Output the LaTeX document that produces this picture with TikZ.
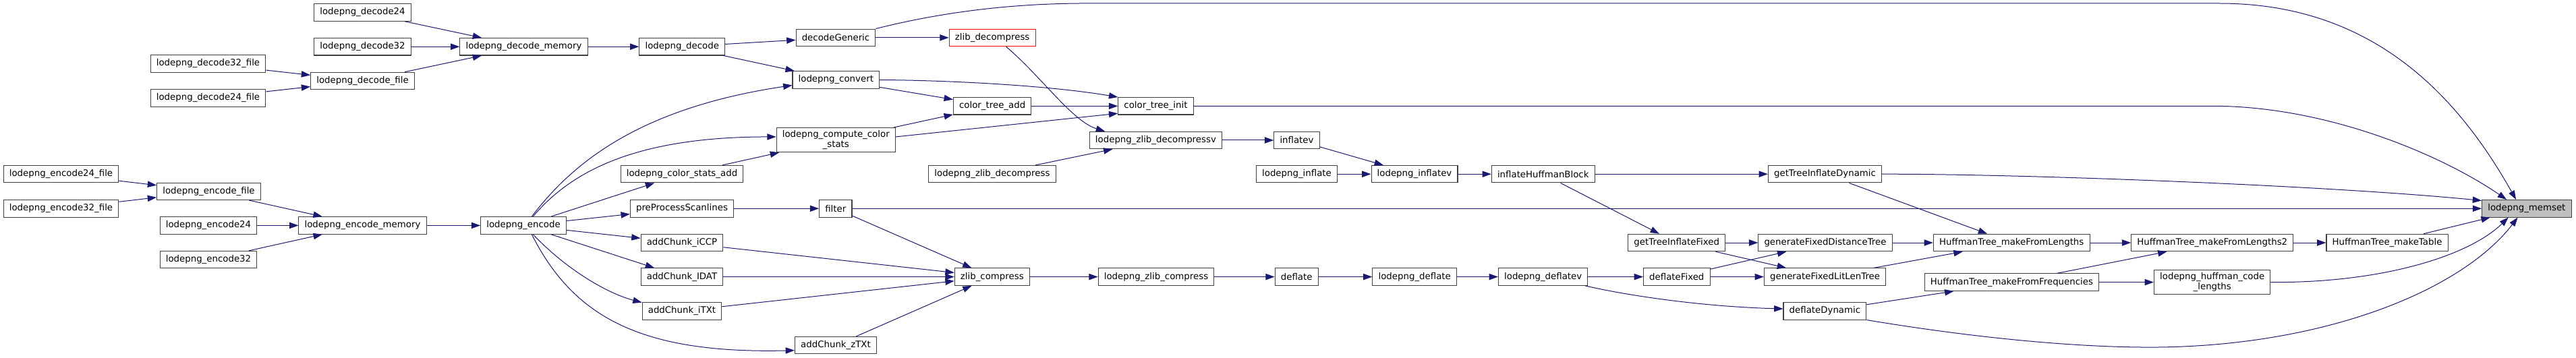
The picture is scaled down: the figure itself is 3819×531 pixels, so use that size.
\documentclass[tikz,border=0pt]{standalone}
\usepackage{fontspec}
\setmainfont{DejaVu Sans}
\usetikzlibrary{arrows.meta}
\definecolor{edgeblue}{HTML}{191970}

\begin{document}
\begin{tikzpicture}[x=0.75pt,y=-0.75pt]
   \tikzset{FnStyle/.style = {draw = black!75, fill = white, line width = 0.8pt,
      inner xsep = 6.5pt, inner ysep = 3pt, minimum height = 19.1pt,
      align = center, font = \fontsize{10}{11.25}\selectfont}}
   \tikzset{CallStyle/.style = {draw = edgeblue, line width = 0.75pt,
      -{Triangle[length=10pt,width=7pt]}}}
   \useasboundingbox (0,0) rectangle (3819,531);

   % decode side
   \node[FnStyle] (dec24)  at (537.5,18.5)  {lodepng\_decode24};
   \node[FnStyle] (dec32)  at (537.5,69.25) {lodepng\_decode32};
   \node[FnStyle] (decmem) at (776.5,69.25) {lodepng\_decode\_memory};
   \node[FnStyle] (dec32f) at (308.5,94.5)  {lodepng\_decode32\_file};
   \node[FnStyle] (dec24f) at (308.5,145.4) {lodepng\_decode24\_file};
   \node[FnStyle] (decf)   at (537.5,120)   {lodepng\_decode\_file};
   \node[FnStyle] (dec)    at (1011.25,69.25) {lodepng\_decode};
   \node[FnStyle] (decgen) at (1239,55.85)  {decodeGeneric};
   \node[FnStyle, draw = red] (zdec) at (1471.15,55.85) {zlib\_decompress};
   \node[FnStyle] (conv)   at (1239.3,118.5) {lodepng\_convert};
   \node[FnStyle] (ctadd)  at (1471.15,157.3) {color\_tree\_add};
   \node[FnStyle] (ccs)    at (1239.25,207.6) {lodepng\_compute\_color\\\_stats};
   \node[FnStyle] (csadd)  at (1011,258.2)  {lodepng\_color\_stats\_add};
   \node[FnStyle] (lzdec)  at (1470.9,258.2) {lodepng\_zlib\_decompress};
   \node[FnStyle] (ctinit) at (1713.5,157.3) {color\_tree\_init};
   \node[FnStyle] (lzdecv) at (1713.4,208)  {lodepng\_zlib\_decompressv};
   \node[FnStyle] (infv)   at (1922.5,208)  {inflatev};
   \node[FnStyle] (linf)   at (1922.5,258.2) {lodepng\_inflate};
   \node[FnStyle] (linfv)  at (2097,258.2)  {lodepng\_inflatev};
   \node[FnStyle] (ihb)    at (2287.75,258.2) {inflateHuffmanBlock};
   \node[FnStyle] (gtid)   at (2705.5,258.2) {getTreeInflateDynamic};
   \node[FnStyle] (gtif)   at (2485.75,360) {getTreeInflateFixed};

   % encode side
   \node[FnStyle] (enc24f) at (90.5,258.2)  {lodepng\_encode24\_file};
   \node[FnStyle] (enc32f) at (90.5,309.3)  {lodepng\_encode32\_file};
   \node[FnStyle] (encf)   at (309.5,283.8) {lodepng\_encode\_file};
   \node[FnStyle] (enc24)  at (309,334.4)   {lodepng\_encode24};
   \node[FnStyle] (enc32)  at (309,385.2)   {lodepng\_encode32};
   \node[FnStyle] (encmem) at (537.5,334.4) {lodepng\_encode\_memory};
   \node[FnStyle] (enc)    at (776,334.4)   {lodepng\_encode};
   \node[FnStyle] (presc)  at (1011,309.3)  {preProcessScanlines};
   \node[FnStyle] (filt)   at (1238.8,309.3) {filter};
   \node[FnStyle] (iccp)   at (1011,360)    {addChunk\_iCCP};
   \node[FnStyle] (idat)   at (1011,410.6)  {addChunk\_IDAT};
   \node[FnStyle] (itxt)   at (1011,461.3)  {addChunk\_iTXt};
   \node[FnStyle] (ztxt)   at (1239,512.2)  {addChunk\_zTXt};
   \node[FnStyle] (zcomp)  at (1470.8,410.6) {zlib\_compress};
   \node[FnStyle] (lzcomp) at (1714,410.6)  {lodepng\_zlib\_compress};
   \node[FnStyle] (defl)   at (1922.2,410.6) {deflate};
   \node[FnStyle] (ldefl)  at (2097.2,410.6) {lodepng\_deflate};
   \node[FnStyle] (ldeflv) at (2287.7,410.6) {lodepng\_deflatev};
   \node[FnStyle] (dfix)   at (2485.8,410.6) {deflateFixed};
   \node[FnStyle] (ddyn)   at (2705.4,461.3) {deflateDynamic};
   \node[FnStyle] (gfdt)   at (2706,360)    {generateFixedDistanceTree};
   \node[FnStyle] (gfllt)  at (2705.6,410.6) {generateFixedLitLenTree};

   % huffman trees
   \node[FnStyle] (hmfl)   at (2982.2,360)  {HuffmanTree\_makeFromLengths};
   \node[FnStyle] (hmff)   at (2982.4,418.6) {HuffmanTree\_makeFromFrequencies};
   \node[FnStyle] (hmfl2)  at (3279.75,360) {HuffmanTree\_makeFromLengths2};
   \node[FnStyle] (hmtab)  at (3539,360)    {HuffmanTree\_makeTable};
   \node[FnStyle] (hcl)    at (3279.7,418.6) {lodepng\_huffman\_code\\\_lengths};
   \node[FnStyle, fill = black!25] (memset) at (3745.85,309.3) {lodepng\_memset};

   \draw[CallStyle] (dec24) -- (decmem);
   \draw[CallStyle] (dec32) -- (decmem);
   \draw[CallStyle] (decf) -- (decmem);
   \draw[CallStyle] (dec32f) -- (decf);
   \draw[CallStyle] (dec24f) -- (decf);
   \draw[CallStyle] (decmem) -- (dec);
   \draw[CallStyle] (dec) -- (decgen);
   \draw[CallStyle] (dec) -- (conv);
   \draw[CallStyle] (decgen) -- (zdec);
   \draw[CallStyle] (decgen.north east) .. controls (1380,22) and (1480,6) .. (1600,5)
      -- (3290,5) .. controls (3520,5) and (3645,145) .. (memset.140);
   \draw[CallStyle] (zdec.-33) .. controls (1545,115) and (1590,180) .. (lzdecv.170);
   \draw[CallStyle] (conv.east) .. controls (1400,119) and (1550,126) .. (ctinit.north west);
   \draw[CallStyle] (conv) -- (ctadd);
   \draw[CallStyle] (ctadd) -- (ctinit);
   \draw[CallStyle] (ccs) -- (ctadd);
   \draw[CallStyle] (ccs.3) -- (ctinit.191);
   \draw[CallStyle] (csadd) -- (ccs);
   \draw[CallStyle] (lzdec) -- (lzdecv);
   \draw[CallStyle] (lzdecv) -- (infv);
   \draw[CallStyle] (infv) -- (linfv);
   \draw[CallStyle] (linf) -- (linfv);
   \draw[CallStyle] (linfv) -- (ihb);
   \draw[CallStyle] (ihb) -- (gtid);
   \draw[CallStyle] (ihb) -- (gtif);
   \draw[CallStyle] (ctinit.east) -- (3280,157.3) .. controls (3450,157.3) and (3620,230) .. (memset.156);
   \draw[CallStyle] (gtid.east) .. controls (3000,258) and (3450,275) .. (memset.170);
   \draw[CallStyle] (gtid) -- (hmfl);

   \draw[CallStyle] (enc24f) -- (encf);
   \draw[CallStyle] (enc32f) -- (encf);
   \draw[CallStyle] (encf) -- (encmem);
   \draw[CallStyle] (enc24) -- (encmem);
   \draw[CallStyle] (enc32) -- (encmem);
   \draw[CallStyle] (encmem) -- (enc);
   \draw[CallStyle] (enc.47) .. controls (850,240) and (950,160) .. (conv.187);
   \draw[CallStyle] (enc.43) .. controls (850,250) and (950,203) .. (ccs.177);
   \draw[CallStyle] (enc) -- (csadd);
   \draw[CallStyle] (enc) -- (presc);
   \draw[CallStyle] (enc) -- (iccp);
   \draw[CallStyle] (enc) -- (idat);
   \draw[CallStyle] (enc.-43) .. controls (840,400) and (900,435) .. (itxt.168);
   \draw[CallStyle] (enc.-47) .. controls (850,470) and (950,525) .. (ztxt.187);
   \draw[CallStyle] (presc) -- (filt);
   \draw[CallStyle] (filt) -- (memset);
   \draw[CallStyle] (filt) -- (zcomp);
   \draw[CallStyle] (iccp) -- (zcomp);
   \draw[CallStyle] (idat) -- (zcomp);
   \draw[CallStyle] (itxt) -- (zcomp);
   \draw[CallStyle] (ztxt) -- (zcomp);
   \draw[CallStyle] (zcomp) -- (lzcomp);
   \draw[CallStyle] (lzcomp) -- (defl);
   \draw[CallStyle] (defl) -- (ldefl);
   \draw[CallStyle] (ldefl) -- (ldeflv);
   \draw[CallStyle] (ldeflv) -- (dfix);
   \draw[CallStyle] (ldeflv.-12) .. controls (2420,440) and (2530,455) .. (ddyn.177);
   \draw[CallStyle] (gtif) -- (gfdt);
   \draw[CallStyle] (gtif) -- (gfllt);
   \draw[CallStyle] (dfix) -- (gfdt);
   \draw[CallStyle] (dfix) -- (gfllt);
   \draw[CallStyle] (gfdt) -- (hmfl);
   \draw[CallStyle] (gfllt) -- (hmfl);
   \draw[CallStyle] (ddyn) -- (hmff);
   \draw[CallStyle] (ddyn.south east) .. controls (2950,505) and (3100,516) .. (3200,515)
      .. controls (3450,512) and (3650,430) .. (memset.225);

   \draw[CallStyle] (hmfl) -- (hmfl2);
   \draw[CallStyle] (hmff) -- (hmfl2);
   \draw[CallStyle] (hmff) -- (hcl);
   \draw[CallStyle] (hmfl2) -- (hmtab);
   \draw[CallStyle] (hmtab) -- (memset);
   \draw[CallStyle] (hcl.east) .. controls (3530,420) and (3660,380) .. (memset.206);

\end{tikzpicture}
\end{document}
